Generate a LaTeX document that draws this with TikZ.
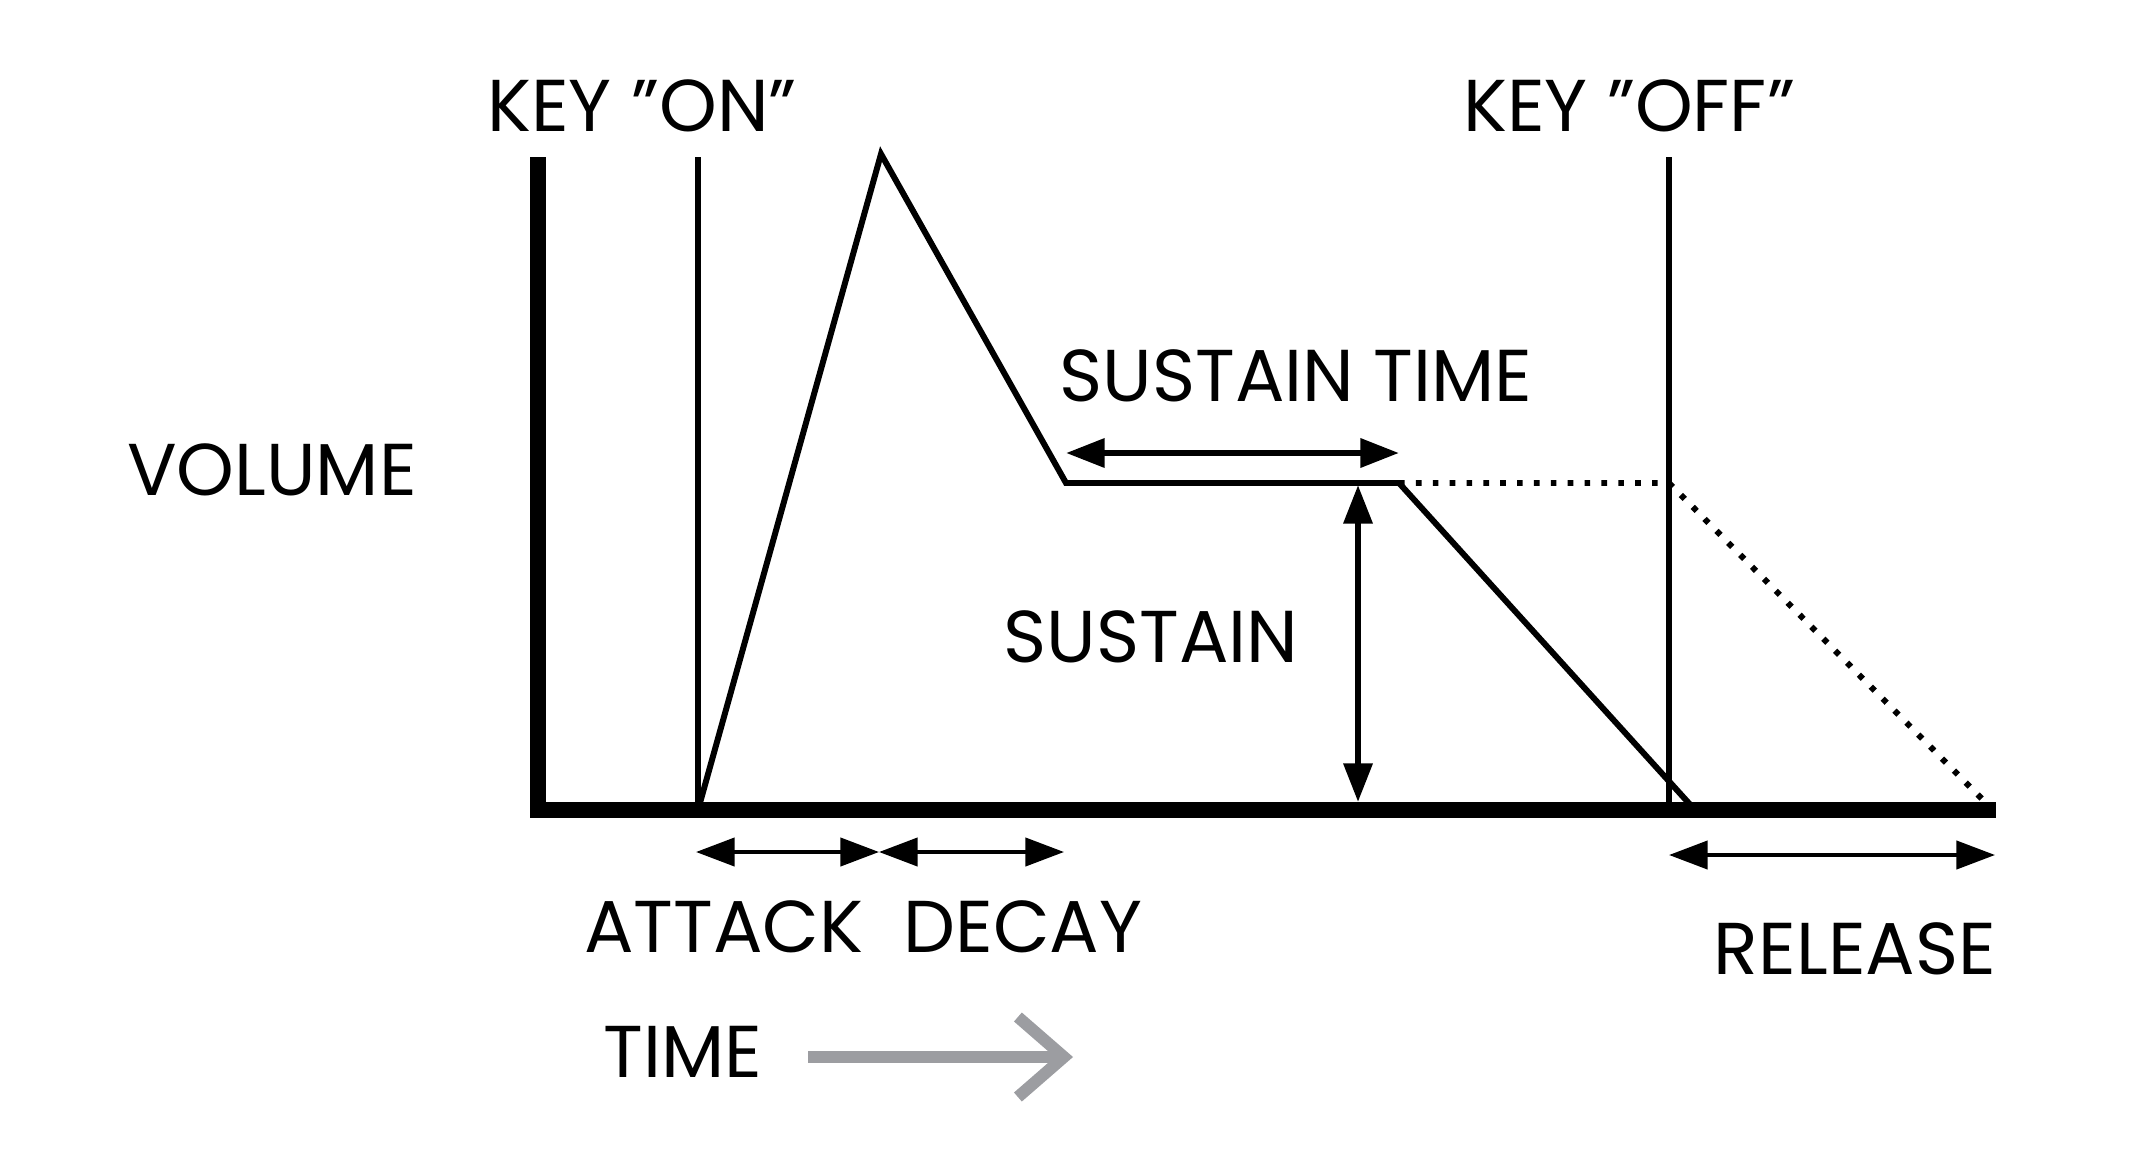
\documentclass[tikz,border=0pt]{standalone}
\usepackage{fontspec}
\setmainfont{Poppins}
\usepackage{tikz}
\usetikzlibrary{arrows.meta,calc}
\definecolor{timegray}{RGB}{156,157,161}
\tikzset{
    label/.style={font=\fontsize{20.9}{24}\selectfont,inner sep=0pt},
    thinarrow/.style={line width=1.1pt,{Triangle[length=11pt,width=8pt]}-{Triangle[length=11pt,width=8pt]}},
    thickarrow/.style={line width=1.8pt,{Triangle[length=11pt,width=8pt]}-{Triangle[length=11pt,width=8pt]}}
}

\begin{document}
\begin{tikzpicture}[line cap=butt,line join=miter,x=1cm,y=1cm]
                \useasboundingbox (0,0) rectangle (21.34,11.68);
                % points of the envelope
                \coordinate (origin) at (5.38,3.58);
                \coordinate (yTop) at (5.38,10.11);
                \coordinate (xEnd) at (19.96,3.58);
                \coordinate (onTop) at (6.98,10.11);
                \coordinate (onBot) at (6.98,3.58);
                \coordinate (peak) at (8.81,10.14);
                \coordinate (decEnd) at (10.66,6.85);
                \coordinate (susEnd) at (13.99,6.85);
                \coordinate (relEnd) at (16.95,3.58);
                \coordinate (offTop) at (16.69,10.11);
                \coordinate (offBot) at (16.69,3.58);
                \coordinate (offSus) at (16.69,6.85);
                \coordinate (dotEnd) at (19.87,3.64);
                \draw [line width=1.7pt] (onTop)-- (onBot);
                \draw [line width=1.7pt] (offTop)-- (offBot);
                \draw [line width=1.7pt] (onBot)-- (peak)-- (decEnd)-- (susEnd)-- (relEnd);
                \draw [line width=1.7pt,dash pattern=on 1.6pt off 3.2pt] (susEnd)-- (offSus)-- (dotEnd);
                \draw [line width=4.4pt] (yTop)-- (origin)-- (xEnd);
                % dimension arrows
                \coordinate (stL) at (10.66,7.15);
                \coordinate (stR) at (13.99,7.15);
                \coordinate (sTop) at (13.58,6.83);
                \coordinate (sBot) at (13.58,3.66);
                \coordinate (atL) at (6.96,3.16);
                \coordinate (atR) at (8.79,3.16);
                \coordinate (dcR) at (10.64,3.16);
                \coordinate (rlL) at (16.69,3.13);
                \coordinate (rlR) at (19.95,3.13);
                \draw [thickarrow] (stL)-- (stR);
                \draw [thickarrow] (sTop)-- (sBot);
                \draw [thinarrow] (atL)-- (atR);
                \draw [thinarrow] (atR)-- (dcR);
                \draw [thinarrow] (rlL)-- (rlR);
                % labels
                \node[label] (keyon) at (6.42,10.62) {KEY "ON"};
                \node[label] (keyoff) at (16.29,10.62) {KEY "OFF"};
                \node[label] (sustime) at (12.96,7.92) {SUSTAIN TIME};
                \node[label] (volume) at (2.72,6.98) {VOLUME};
                \node[label] (sustain) at (11.51,5.31) {SUSTAIN};
                \node[label] (attack) at (7.24,2.41) {ATTACK};
                \node[label] (decay) at (10.23,2.41) {DECAY};
                \node[label] (release) at (18.55,2.19) {RELEASE};
                \node[label] (time) at (6.83,1.16) {TIME};
                \coordinate (tStart) at (8.08,1.11);
                \coordinate (tEnd) at (10.73,1.11);
                \draw [timegray,line width=3.4pt,-{Straight Barb[length=4.6mm,width=8mm]}] (tStart)-- (tEnd);
\end{tikzpicture}
\end{document}
